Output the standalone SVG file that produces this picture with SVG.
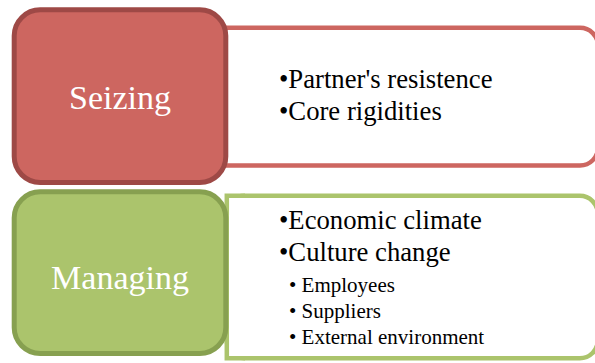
<svg xmlns="http://www.w3.org/2000/svg" width="595" height="363" viewBox="0 0 595 363">
  <style>
    .panel { fill: #ffffff; stroke-width: 4.5; }
    .head { stroke-width: 5; }
    .title { font-family: "Liberation Serif", "Times New Roman", serif; font-size: 34px; fill: #ffffff; text-anchor: middle; }
    .item { font-family: "Liberation Serif", "Times New Roman", serif; font-size: 26.7px; fill: #000000; }
    .sub { font-family: "Liberation Serif", "Times New Roman", serif; font-size: 21px; fill: #000000; }
  </style>
  <rect width="595" height="363" fill="#ffffff"/>

  <!-- Seizing row -->
  <g id="seizing-details">
    <rect class="panel" x="200" y="27.8" width="398" height="137.7" rx="18" stroke="#cd6660"/>
    <text class="item" x="279" y="88">•Partner's resistence</text>
    <text class="item" x="279" y="120">•Core rigidities</text>
  </g>
  <g id="seizing">
    <rect class="head" x="14.2" y="9.8" width="211.6" height="172.7" rx="26" fill="#cd6660" stroke="#9e4946"/>
    <text class="title" x="120" y="109">Seizing</text>
  </g>

  <!-- Managing row -->
  <g id="managing-details">
    <rect class="panel" x="226.8" y="195.8" width="371" height="162.5" rx="18" stroke="#abc46c"/>
    <rect x="229" y="198" width="30" height="158" fill="#ffffff"/>
    <path d="M226.8 215 V195.8 H245 M226.8 340 V358.3 H245" fill="none" stroke="#abc46c" stroke-width="4.5"/>
    <text class="item" x="279" y="229">•Economic climate</text>
    <text class="item" x="279" y="261">•Culture change</text>
    <text class="sub" x="289" y="292">• Employees</text>
    <text class="sub" x="289" y="318">• Suppliers</text>
    <text class="sub" x="289" y="344">• External environment</text>
  </g>
  <g id="managing">
    <rect class="head" x="14.2" y="191.8" width="211.6" height="161.7" rx="26" fill="#abc46c" stroke="#87a050"/>
    <text class="title" x="120" y="289">Managing</text>
  </g>

  <g id="connectors"/>
</svg>
